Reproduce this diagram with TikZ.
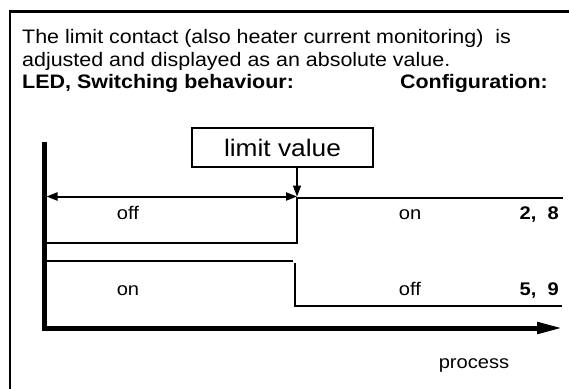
\documentclass[tikz,border=0pt]{standalone}
\usepackage{fontspec}
\setmainfont{Liberation Sans}[FakeStretch=1.1]
\usetikzlibrary{arrows.meta}
\begin{document}
\begin{tikzpicture}[x=1pt,y=-1pt,
  sig/.style={line width=2pt},
  lbl/.style={inner sep=0pt, anchor=base, font=\fontsize{18.3}{20}\selectfont},
  num/.style={inner sep=0pt, anchor=base east, font=\fontsize{18.3}{20}\selectfont\bfseries},
  body/.style={inner sep=0pt, anchor=base west, font=\fontsize{19.5}{22}\selectfont},
  tipbig/.style={-{Triangle[length=26pt,width=11pt]}},
  tipsmall/.style={-{Triangle[length=11pt,width=8pt]}},
  tipboth/.style={{Triangle[length=11pt,width=8pt]}-{Triangle[length=11pt,width=8pt]}},
]
\useasboundingbox (0,0) rectangle (569,388);
\clip (0,0) rectangle (569,388);
% frame
\coordinate (fbl) at (10,400);
\coordinate (ftl) at (10,11.5);
\coordinate (ftr) at (580,11.5);
\draw[line width=2.5pt] (fbl) -- (ftl) -- (ftr);
% texts
\node[body] (t1) at (22,43.5) {The limit contact (also heater current monitoring) \ is};
\node[body] (t2) at (22,66.5) {adjusted and displayed as an absolute value.};
\node[body, font=\fontsize{19.5}{22}\selectfont\bfseries] (t3) at (22,88.8) {LED, Switching behaviour:};
\node[body, anchor=base east, font=\fontsize{19.5}{22}\selectfont\bfseries] (t4) at (548,88.8) {Configuration:};
% axes
\coordinate (ytop) at (44,142);
\coordinate (o) at (44,328);
\coordinate (xend) at (563,328);
\draw[line width=5pt, tipbig] (ytop) -- (o) -- (xend);
% limit value box
\node[draw, line width=2pt, minimum width=181pt, minimum height=39pt, inner sep=0pt,
      font=\fontsize{23.9}{26}\selectfont] (lim) at (282.5,147.5) {limit value};
\coordinate (stp) at (297,196.5);
\draw[line width=1.5pt, tipsmall] (lim.south -| stp) -- (stp);
\coordinate (dl) at (46.5,196.5);
\draw[line width=2pt, tipboth] (dl) -- (stp);
% signal 1
\coordinate (s1a) at (563,198);
\coordinate (s1b) at (297,198);
\coordinate (s1c) at (297,242.5);
\coordinate (s1d) at (44,242.5);
\draw[sig] (s1a) -- (s1b) -- (s1c) -- (s1d);
% signal 2
\coordinate (s2a) at (44,261);
\coordinate (s2b) at (293,261);
\draw[sig] (s2a) -- (s2b);
\coordinate (s2c) at (295,262.5);
\coordinate (s2d) at (295,306);
\coordinate (s2e) at (562,306);
\draw[sig] (s2c) -- (s2d) -- (s2e);
% labels
\node[lbl] (off1) at (128,219.5) {off};
\node[lbl] (on1) at (410,219.5) {on};
\node[num] (n1) at (559,219.5) {2, \ 8};
\node[lbl] (on2) at (128,295.5) {on};
\node[lbl] (off2) at (410,295.5) {off};
\node[num] (n2) at (559,295.5) {5, \ 9};
\node[lbl] (proc) at (474,368.5) {process};
\end{tikzpicture}
\end{document}
